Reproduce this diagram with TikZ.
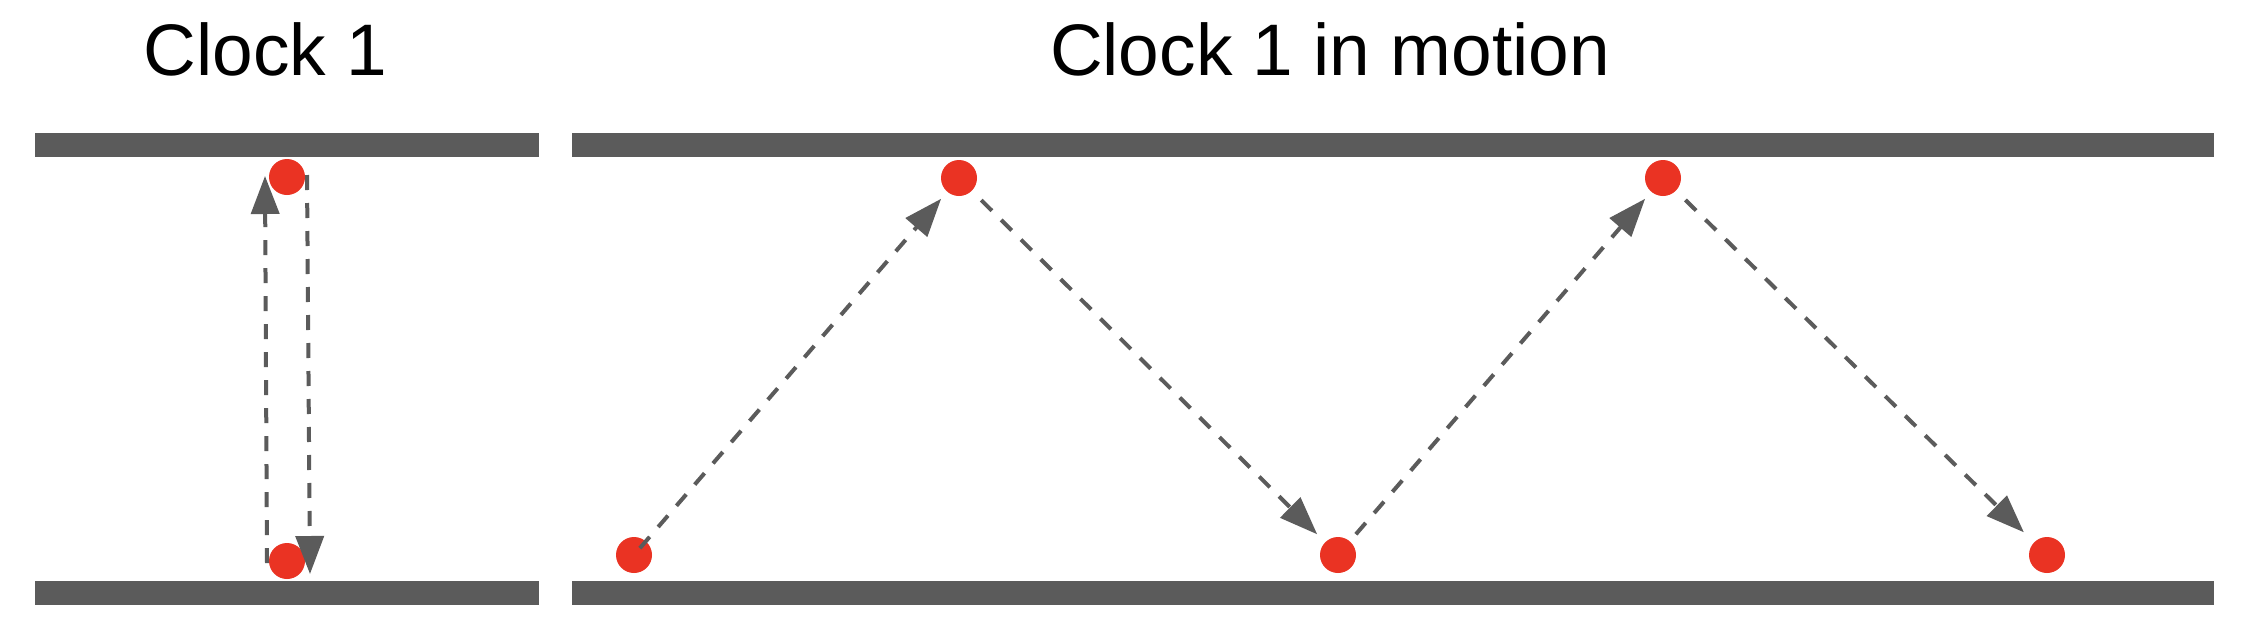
\documentclass[tikz,border=0pt]{standalone}
\usepackage{fontspec}
\setmainfont{Liberation Sans}
\usetikzlibrary{arrows.meta}
\definecolor{bargray}{HTML}{5B5B5B}
\definecolor{dotred}{HTML}{EA3323}
\begin{document}
\begin{tikzpicture}[x=0.5pt,y=-0.5pt,
  bar/.style={fill=bargray},
  dot/.style={circle,fill=dotred,inner sep=0pt,minimum size=18pt},
  arr/.style={draw=bargray,line width=2pt,dash pattern=on 7.5pt off 6.5pt,
     -{Triangle[length=19pt,width=14pt]}},
  title/.style={anchor=base,font=\fontsize{36.5}{40}\selectfont,inner sep=0pt}]
\fill[white] (0,0) rectangle (2260,638);
\useasboundingbox (0,0) rectangle (2260,638);
% titles
\node[title] (t1) at (265.5,75) {Clock 1};
\node[title] (t2) at (1330,75) {Clock 1 in motion};
% bars
\fill[bar] (35,133) rectangle (539,157);
\fill[bar] (35,581) rectangle (539,605);
\fill[bar] (572,133) rectangle (2214,157);
\fill[bar] (572,581) rectangle (2214,605);
% dots
\node[dot] (L1) at (287,177) {};
\node[dot] (L2) at (287,561) {};
\node[dot] (R1) at (634,555) {};
\node[dot] (R2) at (959,178) {};
\node[dot] (R3) at (1338,555) {};
\node[dot] (R4) at (1663,178) {};
\node[dot] (R5) at (2047,555) {};
% left clock arrows
\coordinate (u0) at (267,563);
\coordinate (u1) at (265,176);
\coordinate (d0) at (307,175);
\coordinate (d1) at (310,574);
\draw[arr] (u0) -- (u1);
\draw[arr] (d0) -- (d1);
% moving clock arrows
\draw[arr,shorten <=4.5pt,shorten >=4.5pt] (R1.center) -- (R2);
\draw[arr,shorten <=6.5pt,shorten >=5.5pt] (R2) -- (R3);
\draw[arr,shorten <=4.5pt,shorten >=4.5pt] (R3) -- (R4);
\draw[arr,shorten <=6.5pt,shorten >=7pt] (R4) -- (R5);
\end{tikzpicture}
\end{document}
